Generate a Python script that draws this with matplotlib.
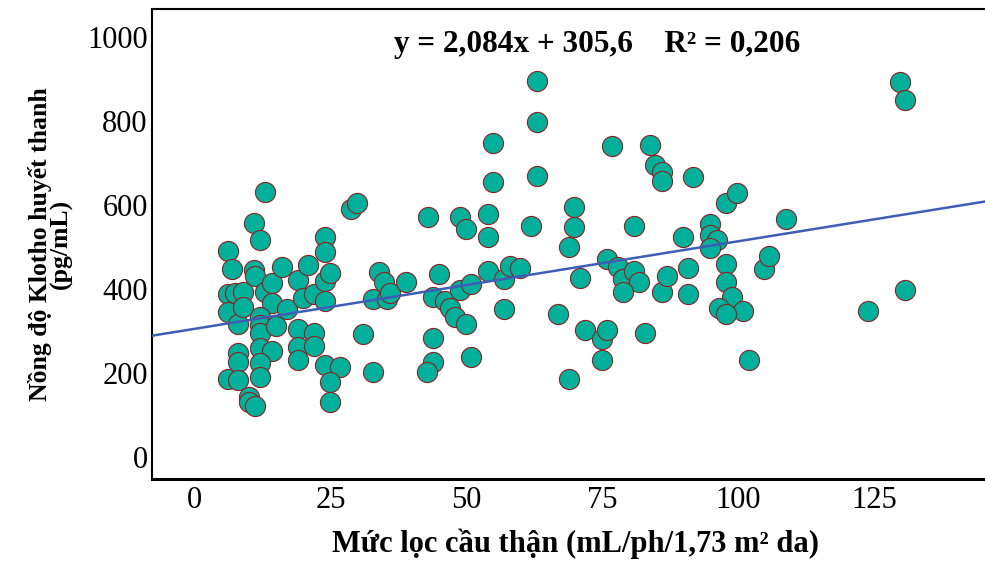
import matplotlib
matplotlib.use("Agg")
import matplotlib.pyplot as plt

# Mức lọc cầu thận (eGFR) và nồng độ Klotho huyết thanh
egfr = [6.0, 6.0, 6.0, 6.0, 6.9, 7.4, 8.0, 8.0, 8.0, 8.0,
        8.9, 8.9, 10.0, 10.0, 11.0, 10.9, 12.0, 10.9, 11.0, 12.9,
        12.9, 14.1, 14.1, 12.0, 12.0, 12.0, 12.0, 14.1, 12.0, 12.0,
        15.0, 16.0, 16.9, 18.9, 18.9, 18.9, 18.9, 19.9, 20.9, 22.0,
        22.0, 22.0, 23.9, 23.9, 23.9, 23.9, 24.9, 23.9, 26.7, 24.9,
        24.9, 28.8, 29.8, 30.9, 32.8, 32.8, 33.9, 34.8, 35.3, 35.9,
        38.8, 42.9, 45.0, 43.9, 46.0, 46.9, 47.9, 49.9, 48.8, 50.9,
        43.9, 43.9, 42.8, 50.9, 48.8, 49.9, 53.9, 53.9, 54.9, 54.9,
        53.9, 56.9, 58.0, 59.9, 56.9, 61.9, 62.9, 62.9, 62.9, 66.8,
        68.8, 68.9, 69.8, 69.8, 70.9, 71.8, 74.9, 75.8, 74.9, 75.8,
        76.7, 77.9, 78.8, 80.8, 81.8, 78.8, 80.8, 82.8, 83.8, 84.7,
        85.9, 85.9, 85.9, 86.8, 89.9, 90.8, 90.8, 91.7, 94.8, 94.8,
        96.0, 94.8, 97.8, 99.7, 97.8, 97.8, 98.8, 96.5, 100.8, 97.8,
        101.9, 104.8, 105.7, 108.8, 123.8, 129.8, 130.7, 130.7]
klotho = [490, 389, 345, 186, 447, 390, 318, 247, 227, 183,
          394, 358, 144, 132, 121, 558, 517, 445, 431, 632,
          394, 366, 414, 334, 314, 295, 259, 252, 223, 191,
          312, 453, 352, 421, 306, 263, 231, 379, 457, 389,
          295, 264, 524, 488, 419, 371, 439, 219, 214, 179,
          132, 590, 606, 292, 376, 202, 441, 417, 376, 390,
          417, 572, 436, 382, 371, 354, 334, 318, 398, 412,
          283, 227, 203, 239, 571, 542, 579, 523, 749, 654,
          444, 425, 456, 450, 352, 551, 895, 798, 669, 340,
          185, 501, 595, 548, 426, 302, 281, 302, 231, 471,
          740, 453, 425, 444, 416, 392, 551, 295, 743, 695,
          679, 657, 392, 431, 523, 451, 388, 666, 554, 529,
          518, 497, 606, 629, 461, 416, 382, 356, 348, 340,
          231, 447, 479, 568, 348, 892, 850, 399]

slope = 2.084
intercept = 305.6
x_ticks = [0, 25, 50, 75, 100, 125]
y_ticks = [0, 200, 400, 600, 800, 1000]
eq_text = "y = 2,084x + 305,6    R² = 0,206"
x_label = "Mức lọc cầu thận (mL/ph/1,73 m² da)"
y_label = "Nồng độ Klotho huyết thanh\n(pg/mL)"

plt.rcParams["font.family"] = ["Liberation Serif", "DejaVu Serif"]

fig = plt.figure(figsize=(9.85, 5.61), dpi=100)
ax = fig.add_axes([0.1543, 0.1462, 0.8457, 0.8378])

xmin, xmax = -7.9, 145.4
ax.set_xlim(xmin, xmax)
ax.set_ylim(-52, 1067)

ax.plot([xmin, xmax], [intercept + slope * xmin, intercept + slope * xmax],
        color="#3f5db4", lw=1.8, zorder=3)
ax.scatter(egfr, klotho, s=210, facecolor="#00b09b", edgecolor="#8b2323",
           linewidth=0.8, zorder=2)

ax.set_xticks(x_ticks)
ax.set_yticks(y_ticks)
ax.tick_params(length=0, labelsize=22)
ax.tick_params(axis="x", pad=5)
ax.tick_params(axis="y", pad=3)

for s in ["left", "top"]:
    ax.spines[s].set_linewidth(1.5)
ax.spines["bottom"].set_linewidth(2.2)
ax.spines["right"].set_visible(False)

ax.text(0.534, 0.925, eq_text, transform=ax.transAxes, ha="center", va="center",
        fontsize=22.5, fontweight="bold")

ax.set_xlabel(x_label, fontsize=22, fontweight="bold", labelpad=10)
ax.xaxis.label.set_x(0.508)
ax.set_ylabel(y_label, fontsize=18.5, fontweight="bold", labelpad=10, linespacing=0.9)

fig.savefig("out.png", dpi=100)
